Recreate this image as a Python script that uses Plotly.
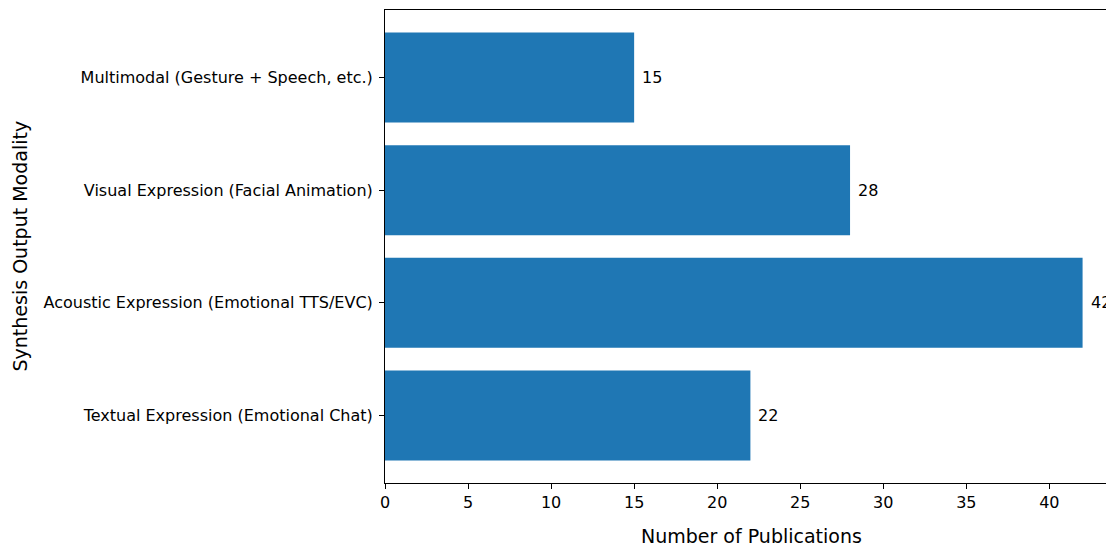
import plotly.graph_objects as go

categories = [
    "Textual Expression (Emotional Chat)",
    "Acoustic Expression (Emotional TTS/EVC)",
    "Visual Expression (Facial Animation)",
    "Multimodal (Gesture + Speech, etc.)",
]
counts = [22, 42, 28, 15]
x_ticks = [0, 5, 10, 15, 20, 25, 30, 35, 40]
x_label = "Number of Publications"
y_label = "Synthesis Output Modality"

FONT = "DejaVu Sans"
X_MAX_FULL = 44.1  # full axis extent (figure is cropped on the right)

fig = go.Figure()
fig.add_trace(go.Bar(
    y=categories, x=counts, orientation="h",
    marker=dict(color="#1f77b4", line=dict(width=0)),
    width=0.8,
))
for c, v in zip(categories, counts):
    fig.add_annotation(x=v, y=c, text=str(v), showarrow=False,
                       xanchor="left", xshift=6, yshift=0,
                       font=dict(family=FONT, size=16, color="black"))

fig.add_annotation(x=X_MAX_FULL / 2, xref="x", y=0, yref="paper",
                   text=x_label, showarrow=False, xanchor="center",
                   yanchor="middle", yshift=-53,
                   font=dict(family=FONT, size=19, color="black"))
fig.add_annotation(x=0, xref="paper", y=0.5, yref="paper",
                   text=y_label, showarrow=False, textangle=-90,
                   xanchor="center", yanchor="middle", xshift=-366,
                   font=dict(family=FONT, size=19, color="black"))

fig.update_layout(
    width=1106, height=544,
    margin=dict(l=385, r=0, t=10, b=61),
    plot_bgcolor="white", paper_bgcolor="white",
    showlegend=False,
    font=dict(family=FONT, size=16, color="black"),
)
fig.update_xaxes(
    range=[0, 43.41], tickvals=x_ticks, showgrid=False, zeroline=False,
    showline=True, linecolor="black", linewidth=1, mirror=True,
    ticks="outside", ticklen=5, tickcolor="black",
    tickfont=dict(family=FONT, size=16), automargin=False,
)
fig.update_yaxes(
    range=[-0.6, 3.6], showgrid=False, zeroline=False,
    showline=True, linecolor="black", linewidth=1,
    ticks="outside", ticklen=5, tickcolor="black", ticklabelstandoff=3,
    tickfont=dict(family=FONT, size=16), automargin=False,
)
fig.write_html(
    "out.html",
    config={"displayModeBar": False},
    post_script="document.body.style.margin='0';document.body.style.overflow='hidden';",
)
